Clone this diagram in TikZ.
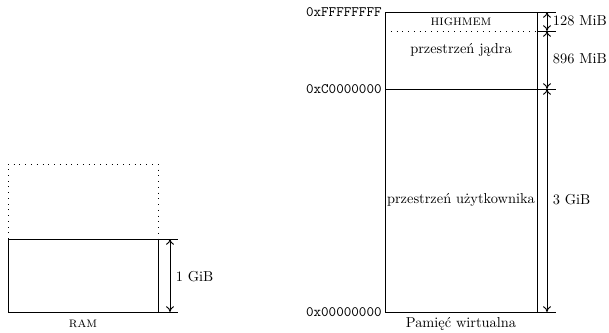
\documentclass[tikz,border=0pt]{standalone}
\usepackage{fontspec}
\usetikzlibrary{arrows.meta}
\begin{document}
\begin{tikzpicture}[x=0.694pt,y=-0.694pt,line width=0.65pt,
  dimarrow/.style={{To[length=4pt,width=5.5pt]}-{To[length=4pt,width=5.5pt]}},
  dots/.style={dash pattern=on 0.6pt off 3.4pt},
  addr/.style={anchor=east,font=\ttfamily,inner sep=2pt},
  sizelbl/.style={anchor=west,inner sep=1pt}]
\useasboundingbox (0,0) rectangle (609,333);
% virtual memory
\coordinate (vTL) at (385,12);
\coordinate (vTR) at (537,12);
\coordinate (vBL) at (385,312);
\coordinate (vBR) at (537,312);
\coordinate (vHL) at (385,31);
\coordinate (vHR) at (537,31);
\coordinate (vKL) at (385,89);
\coordinate (vKR) at (537,89);
\coordinate (eT) at (556,12);
\coordinate (eH) at (556,31);
\coordinate (eK) at (556,89);
\coordinate (eB) at (556,312);
\coordinate (aT) at (547,12);
\coordinate (aH) at (547,31);
\coordinate (aK) at (547,89);
\coordinate (aB) at (547,312);
\draw (vBL) rectangle (vTR);
\draw (vTR) -- (eT);
\draw (vBR) -- (eB);
\draw (vKL) -- (eK);
\draw[dots] (vHL) -- (vHR);
\draw (vHR) -- (eH);
\draw[dimarrow] (aT) -- (aH);
\draw[dimarrow] (aH) -- (aK);
\draw[dimarrow] (aK) -- (aB);
\node[addr] (lF) at (vTL) {0xFFFFFFFF};
\node[addr] (lC) at (vKL) {0xC0000000};
\node[addr] (l0) at (vBL) {0x00000000};
\node (hm) at (461,22) {\textsc{highmem}};
\node (kj) at (461,50) {przestrzeń jądra};
\node (us) at (461,200) {przestrzeń użytkownika};
\node (vm) at (461,324) {Pamięć wirtualna};
\node[sizelbl] (s128) at (551,21) {128 MiB};
\node[sizelbl] (s896) at (551,59) {896 MiB};
\node[sizelbl] (s3) at (551,200) {3 GiB};
% RAM
\coordinate (rTL) at (8,239);
\coordinate (rTR) at (158,239);
\coordinate (rBL) at (8,312);
\coordinate (rBR) at (158,312);
\coordinate (dTL) at (8,164);
\coordinate (dTR) at (158,164);
\coordinate (rET) at (178,239);
\coordinate (rEB) at (178,312);
\coordinate (raT) at (170,239);
\coordinate (raB) at (170,312);
\draw (rBL) rectangle (rTR);
\draw[dots] (rTL) -- (dTL) -- (dTR) -- (rTR);
\draw (rTR) -- (rET);
\draw (rBR) -- (rEB);
\draw[dimarrow] (raT) -- (raB);
\node[sizelbl] (s1) at (174,277) {1 GiB};
\node (ram) at (83,324) {\textsc{ram}};
\end{tikzpicture}
\end{document}
